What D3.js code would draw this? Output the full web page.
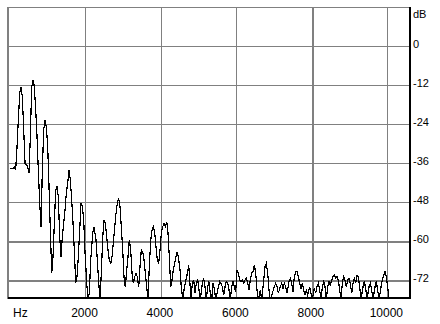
<!DOCTYPE html>
<html><head><meta charset="utf-8">
<script src="https://cdn.jsdelivr.net/npm/d3@7/dist/d3.min.js"></script>
<style>
html,body{margin:0;padding:0;background:#fff;}
svg{display:block;}
text{font-family:"Liberation Sans",Arial,sans-serif;fill:#000;}
</style></head>
<body>
<svg id="chart" width="440" height="324"></svg>
<script>
// ---- data ----
const freqHz = [0,61,114,151,186,220,257,292,326,363,398,432,469,504,538,575,610,644,681,716,750,787,822,856,893,928,962,999,1034,1068,1105,1140,1174,1211,1246,1280,1317,1352,1386,1423,1458,1492,1529,1564,1598,1635,1670,1704,1741,1776,1810,1847,1882,1916,1953,
1980,2033,2067,2101,2139,2192,2226,2279,2313,2351,2385,2419,2457,2491,2525,2563,2597,2631,2669,2703,2737,2775,2809,2843,2881,2915,2949,2987,3021,3055,3093,3127,3161,3199,3233,3267,3305,3339,3373,3411,3445,3479,3517,3551,3585,3623,3657,3691,3729,3763,3797,3835,3869,3903,3941,3975,4009,4047,4081,4115,4153,4187,4221,4259,4293,4327,4365,4399,4433,4471,4505,4539,4577,4611,4645,4683,4736,
4797,4831,4868,4903,4937,4974,5009,5043,5096,5133,5168,5202,5239,5274,5308,5345,5380,5414,5451,5520,5557,5592,5626,5663,5698,5732,5769,5804,5838,5875,5910,5944,5981,6016,6050,6087,6122,6156,6193,6228,6262,6299,6334,6368,6405,6440,6474,6511,6546,6580,6633,6670,6723,6758,6792,6829,6864,6898,6951,7004,7041,7076,7110,7163,7200,7235,7269,7306,7341,7394,7428,7465,7500,7534,7571,7606,7640,7677,7712,7746,7783,7818,7852,7889,7942,7977,8011,8064,8101,8136,8170,8207,8242,8276,8313,8348,8382,8419,8454,8488,8525,8560,8594,8631,8666,8700,8737,8772,8806,8843,8878,8912,8949,8984,9018,9055,9090,9124,9161,9196,9230,9267,9302,9355,9389,9426,9461,9514,9548,9585,9620,9673,9707,9744,9779,9832,9866,9903,9938,9972,10009,10044,10070];
const levelDb = [-37.8,-37.8,-37.3,-37.9,-31,-22.8,-14.6,-12.5,-15.6,-25.8,-36.1,-36.6,-37.1,-39.2,-27.9,-12.5,-10.5,-12.5,-19.7,-27.9,-38.2,-48.4,-55.6,-38.2,-25.8,-22.8,-24.8,-31,-43.3,-56.6,-69.9,-64.8,-54.6,-44.3,-43.3,-46.4,-58.7,-64.8,-58.7,-54.6,-50.5,-45.3,-42.2,-38.2,-41.2,-47.4,-54.6,-62.8,-73,-71,-64.8,-56.6,-48.4,-49.4,-53.5,
-61.8,-73,-78,-76.1,-65.8,-57.6,-55.6,-59.7,-65.8,-73,-78,-69.9,-58.7,-53.5,-54.6,-58.7,-62.8,-65.8,-66.9,-64.8,-60.7,-55.6,-51.5,-48.4,-46.9,-49.4,-55.6,-62.8,-71,-74.1,-68.9,-64.8,-59.7,-62.8,-69.9,-73,-71,-69.9,-71,-74.1,-67.9,-62.8,-63.3,-65.8,-69.9,-74.1,-78,-67.9,-59.7,-56.6,-55.6,-57.6,-61.8,-65.8,-66.9,-62.8,-57.6,-55.6,-54.6,-55.6,-54.1,-57.6,-64.8,-74.1,-72,-68.9,-66.9,-64.8,-63.3,-65.8,-68.9,-74.1,-78,-75.1,-73,-71,-67.4,
-78,-73,-72,-76.1,-73,-72,-75.1,-78,-73,-71.5,-74.1,-78,-74.1,-72.5,-76.1,-78,-73,-74.6,-78,-74.1,-72.5,-73,-74.1,-76.6,-74.1,-72.5,-73,-75.1,-78,-74.1,-72.5,-74.1,-75.6,-68.9,-69.9,-72,-72.5,-72,-73,-72,-71.5,-73,-75.1,-72,-69.9,-69.4,-67.4,-69.9,-75.1,-78,-75.1,-78,-72,-67.9,-66.9,-69.9,-75.1,-78,-76.1,-74.1,-73,-74.1,-76.1,-74.1,-73,-74.6,-73,-74.1,-76.1,-72.5,-71.5,-73,-75.6,-71,-69.4,-69.4,-71,-73,-74.6,-73,-75.1,-76.6,-75.1,-76.6,-74.1,-76.1,-78,-74.6,-76.1,-74.1,-73,-75.1,-78,-74.1,-72.5,-74.1,-78,-74.1,-72.5,-73.5,-72,-71,-70.5,-71.5,-71,-72,-75.1,-78,-73,-71,-72,-74.1,-72,-71.5,-73,-76.1,-73,-71.5,-73,-70.5,-71,-74.1,-78,-74.1,-72.5,-74.6,-78,-74.1,-73,-75.1,-78,-74.1,-72.5,-75.1,-78,-74.1,-72,-70.5,-69.4,-71,-74.1,-78,-78];
const xTicks = [2000, 4000, 6000, 8000, 10000];
const xTickLabels = ["2000", "4000", "6000", "8000", "10000"];
const yTicks = [0, -12, -24, -36, -48, -60, -72];
const yTickLabels = ["0", "-12", "-24", "-36", "-48", "-60", "-72"];
const xUnit = "Hz";
const yUnit = "dB";

// ---- layout ----
const svg = d3.select("#chart");
const L = 8, R = 410, T = 7, B = 298;
const x = d3.scaleLinear().domain([-80, 10600]).range([7, 410]);
const y = d3.scaleLinear().domain([12, -78]).range([7, 299.5]);
const crisp = v => Math.round(v) + 0.5;

const thickH = new Set([-60, -72]);
const thickV = new Set([8000]);

// gridlines
svg.append("g").selectAll("line").data(yTicks).join("line")
  .attr("x1", L).attr("x2", R)
  .attr("y1", d => crisp(y(d))).attr("y2", d => crisp(y(d)))
  .attr("stroke", "#808080").attr("stroke-width", d => thickH.has(d) ? 2 : 1)
  .attr("shape-rendering", "crispEdges");
svg.append("g").selectAll("line").data(xTicks).join("line")
  .attr("y1", T).attr("y2", B)
  .attr("x1", d => crisp(x(d))).attr("x2", d => crisp(x(d)))
  .attr("stroke", "#808080").attr("stroke-width", d => thickV.has(d) ? 2 : 1)
  .attr("shape-rendering", "crispEdges");

// top and left border (gray)
svg.append("line").attr("x1", 7).attr("x2", R).attr("y1", 7.5).attr("y2", 7.5)
  .attr("stroke", "#808080").attr("stroke-width", 1).attr("shape-rendering", "crispEdges");
svg.append("line").attr("x1", 8).attr("x2", 8).attr("y1", 7).attr("y2", 299)
  .attr("stroke", "#808080").attr("stroke-width", 2).attr("shape-rendering", "crispEdges");

// series
svg.append("clipPath").attr("id", "clip").append("rect")
  .attr("x", 9).attr("y", T).attr("width", R - 9).attr("height", B - T);
const pts = freqHz.map((f, i) => [f, levelDb[i]]);
svg.append("path").datum(pts)
  .attr("clip-path", "url(#clip)")
  .attr("d", d3.line().x(d => x(Math.max(d[0], 0)) ).y(d => y(d[1])))
  .attr("fill", "none").attr("stroke", "#000").attr("stroke-width", 1.2)
  .attr("shape-rendering", "crispEdges");

// right and bottom axis lines (black)
svg.append("line").attr("x1", 410).attr("x2", 410).attr("y1", 7).attr("y2", 299)
  .attr("stroke", "#000").attr("stroke-width", 2).attr("shape-rendering", "crispEdges");
svg.append("line").attr("x1", 8).attr("x2", 411).attr("y1", 298).attr("y2", 298)
  .attr("stroke", "#000").attr("stroke-width", 2).attr("shape-rendering", "crispEdges");

// right labels
svg.append("g").selectAll("text").data(yTicks).join("text")
  .attr("x", 413).attr("y", d => y(d) - 1)
  .attr("dominant-baseline", "middle")
  .attr("font-size", 11)
  .text((d, i) => yTickLabels[i]);
svg.append("text").attr("x", 413).attr("y", 15)
  .attr("dominant-baseline", "middle").attr("font-size", 11).text(yUnit);

// bottom labels
svg.append("g").selectAll("text").data(xTicks).join("text")
  .attr("x", d => x(d) - 1).attr("y", 314)
  .attr("text-anchor", "middle").attr("dominant-baseline", "middle")
  .attr("font-size", 12)
  .text((d, i) => xTickLabels[i]);
svg.append("text").attr("x", 13).attr("y", 314)
  .attr("dominant-baseline", "middle").attr("font-size", 12).text(xUnit);
</script>
</body></html>
